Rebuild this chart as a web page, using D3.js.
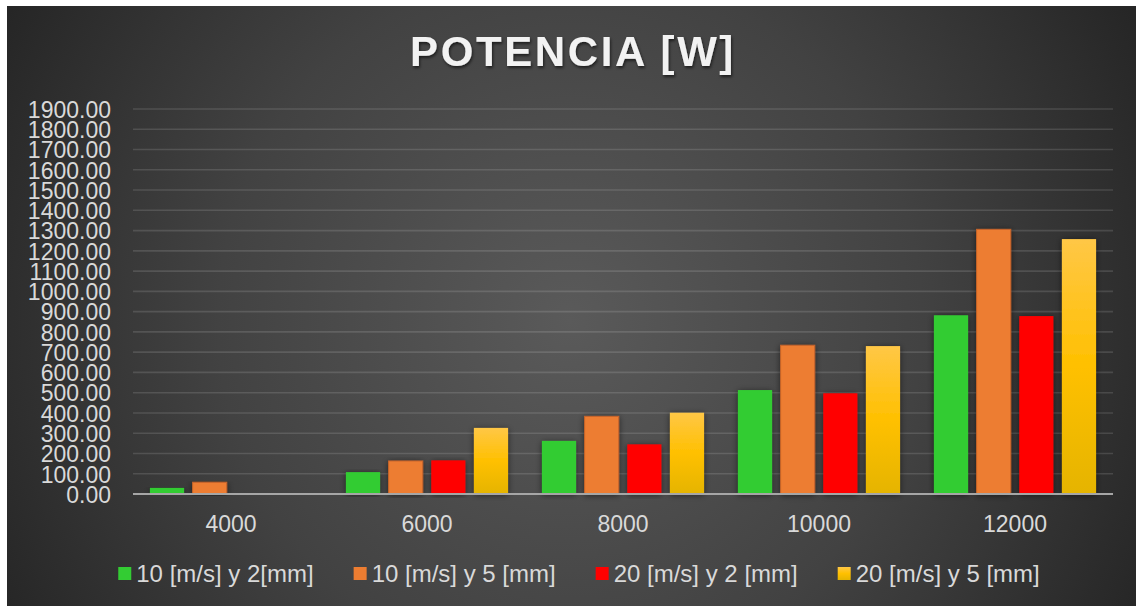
<!DOCTYPE html>
<html>
<head>
<meta charset="utf-8">
<script src="https://cdn.jsdelivr.net/npm/d3@7/dist/d3.min.js"></script>
<style>
  html, body { margin: 0; padding: 0; background: #ffffff; }
  svg { display: block; }
  text { font-family: "Liberation Sans", Arial, sans-serif; }
</style>
</head>
<body>
<svg id="chart" width="1136" height="606"></svg>
<script>
// Categories (rpm) and power values [W] per series
const categories = ["4000", "6000", "8000", "10000", "12000"];
const seriesNames = ["10 [m/s] y 2[mm]", "10 [m/s] y 5 [mm]", "20 [m/s] y 2 [mm]", "20 [m/s] y 5 [mm]"];
const v10_2 = [30, 108, 262, 513, 882];
const v10_5 = [58, 163, 383, 734, 1306];
const v20_2 = [null, 166, 245, 497, 878];
const v20_5 = [null, 326, 401, 730, 1258];
const yTicks = d3.range(0, 2000, 100);
const titleText = "POTENCIA [W]";

const seriesValues = [v10_2, v10_5, v20_2, v20_5];
const seriesFill = ["#33cc33", "#ed7d31", "#ff0000", "url(#gradYellow)"];
const seriesStroke = ["none", "#c8642a", "none", "none"];

const W = 1136, H = 606;
const plot = { left: 133, right: 1113, top: 109, bottom: 494 };

const svg = d3.select("#chart");
const defs = svg.append("defs");

// Panel background: dark radial shading
const bg = defs.append("radialGradient")
  .attr("id", "bgGrad").attr("gradientUnits", "userSpaceOnUse")
  .attr("cx", 570).attr("cy", 320).attr("r", 640);
bg.append("stop").attr("offset", "0").attr("stop-color", "#5a5a5a");
bg.append("stop").attr("offset", "0.55").attr("stop-color", "#424242");
bg.append("stop").attr("offset", "1").attr("stop-color", "#262626");

// Gold gradient for the last series
const gy = defs.append("linearGradient").attr("id", "gradYellow")
  .attr("x1", 0).attr("y1", 0).attr("x2", 0).attr("y2", 1);
gy.append("stop").attr("offset", "0").attr("stop-color", "#ffc746");
gy.append("stop").attr("offset", "0.5").attr("stop-color", "#ffc000");
gy.append("stop").attr("offset", "1").attr("stop-color", "#e5b400");

// Soft shadow behind bars
const sh = defs.append("filter").attr("id", "barShadow")
  .attr("x", "-30%").attr("y", "-10%").attr("width", "160%").attr("height", "120%");
sh.append("feDropShadow").attr("dx", 0).attr("dy", 1).attr("stdDeviation", 3)
  .attr("flood-color", "#000").attr("flood-opacity", 0.55);

const ts = defs.append("filter").attr("id", "titleShadow")
  .attr("x", "-10%").attr("y", "-30%").attr("width", "120%").attr("height", "160%");
ts.append("feDropShadow").attr("dx", 1).attr("dy", 2).attr("stdDeviation", 1.5)
  .attr("flood-color", "#000").attr("flood-opacity", 0.6);

svg.append("rect").attr("x", 7).attr("y", 6).attr("width", W - 7).attr("height", H - 6)
  .attr("fill", "url(#bgGrad)");

// Scales
const y = d3.scaleLinear().domain([0, 1900]).range([plot.bottom, plot.top]);
const x0 = d3.scaleBand().domain(categories).range([plot.left, plot.right])
  .paddingInner(0.173).paddingOuter(0.0865);
const x1 = d3.scaleBand().domain(d3.range(seriesNames.length)).range([0, x0.bandwidth()])
  .paddingInner(0.2).paddingOuter(0);

// Gridlines
svg.append("g")
  .selectAll("line").data(yTicks.filter(t => t > 0)).join("line")
  .attr("x1", plot.left).attr("x2", plot.right)
  .attr("y1", d => y(d)).attr("y2", d => y(d))
  .attr("stroke", "rgba(255,255,255,0.13)").attr("stroke-width", 1.6);

// Y axis labels
const yAxis = d3.axisLeft(y).tickValues(yTicks).tickFormat(d3.format(".2f")).tickSize(0).tickPadding(0);
const gY = svg.append("g").attr("transform", `translate(111,0)`).call(yAxis);
gY.select(".domain").remove();
gY.selectAll("text").attr("fill", "#d9d9d9").style("font-size", "23px")
  .attr("font-family", "Liberation Sans, Arial, sans-serif").attr("dy", "0.36em");

// Bars
const groups = svg.append("g").selectAll("g").data(categories).join("g")
  .attr("transform", d => `translate(${x0(d)},0)`);

groups.selectAll("rect")
  .data((c, ci) => seriesValues.map((vals, si) => ({ si, v: vals[ci] })).filter(d => d.v != null))
  .join("rect")
  .attr("x", d => x1(d.si))
  .attr("width", x1.bandwidth())
  .attr("y", d => y(d.v))
  .attr("height", d => y(0) - y(d.v))
  .attr("fill", d => seriesFill[d.si])
  .attr("stroke", d => seriesStroke[d.si])
  .attr("stroke-width", 1)
  .attr("filter", "url(#barShadow)");

// Baseline
svg.append("line").attr("x1", plot.left).attr("x2", plot.right)
  .attr("y1", y(0)).attr("y2", y(0))
  .attr("stroke", "#a6a6a6").attr("stroke-width", 2);

// X axis labels
const xAxis = d3.axisBottom(x0).tickSize(0).tickPadding(0);
const gX = svg.append("g").attr("transform", `translate(0,${y(0)})`).call(xAxis);
gX.select(".domain").remove();
gX.selectAll("text").attr("fill", "#d9d9d9").style("font-size", "23px")
  .attr("font-family", "Liberation Sans, Arial, sans-serif")
  .attr("y", 37.5).attr("dy", 0);

// Title
svg.append("text").attr("x", 573).attr("y", 66).attr("text-anchor", "middle")
  .attr("fill", "#f2f2f2").style("font-size", "42px").style("font-weight", "bold")
  .style("letter-spacing", "2.6px").attr("filter", "url(#titleShadow)")
  .text(titleText);

// Legend
const legend = svg.append("g");
const items = legend.selectAll("g").data(seriesNames).join("g");
items.append("rect").attr("width", 13).attr("height", 13).attr("y", 567)
  .attr("fill", (d, i) => seriesFill[i]);
items.append("text").attr("x", 18).attr("y", 582).attr("fill", "#d9d9d9")
  .style("font-size", "24px").text(d => d);
const widths = [];
items.each(function() { widths.push(this.getBBox().width); });
const gap = 40;
const total = d3.sum(widths) + gap * (widths.length - 1);
let cx = 579 - total / 2;
items.attr("transform", (d, i) => { const t = `translate(${cx},0)`; cx += widths[i] + gap; return t; });
</script>
</body>
</html>
